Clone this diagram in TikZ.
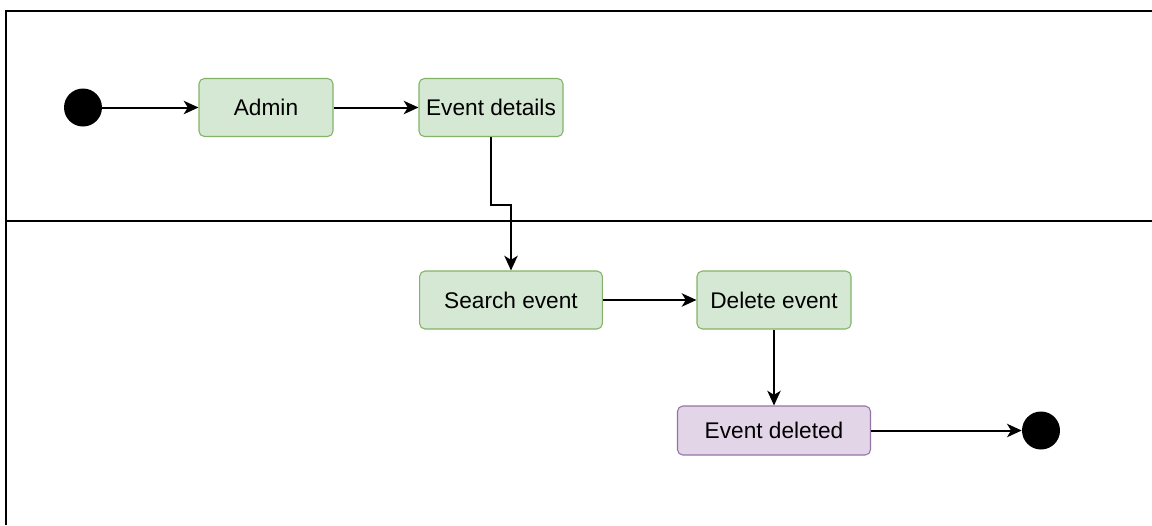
\documentclass[tikz,border=0pt]{standalone}
\usepackage{fontspec}
\setmainfont{Liberation Sans}
\usepackage{tikz}
\usetikzlibrary{arrows.meta}

\definecolor{greenfill}{RGB}{213,232,212}
\definecolor{greenline}{RGB}{130,179,102}
\definecolor{purplefill}{RGB}{225,213,231}
\definecolor{purpleline}{RGB}{150,115,166}

\tikzset{
  actbox/.style={draw=greenline, fill=greenfill, rounded corners=4pt, line width=0.8pt,
    minimum height=43.5pt, inner sep=0pt, font=\fontsize{17}{20}\selectfont},
  endbox/.style={actbox, draw=purpleline, fill=purplefill, minimum height=36.75pt},
  blob/.style={circle, fill=black, minimum size=28.5pt, inner sep=0pt},
  flow/.style={line width=1.5pt, -{Stealth[length=11pt,width=10pt,inset=3pt]}},
}

\begin{document}
\begin{tikzpicture}[x=0.75pt,y=0.75pt,yscale=-1,xscale=1]
\useasboundingbox (0,0) rectangle (1152,525);

%Lanes
\draw [line width=1.8pt] (1152,11) -- (6,11) -- (6,525) ;
\draw [line width=2pt] (6,221) -- (1152,221) ;

%Start and end
\node [blob] (start) at (83,107.5) {};
\node [blob] (finish) at (1041,430.5) {};

%Activities
\node [actbox, minimum width=100.5pt] (admin) at (266,107.5) {Admin};
\node [actbox, minimum width=108pt] (details) at (491,107.5) {Event details};
\node [actbox, minimum width=137pt] (search) at (511,300) {Search event};
\node [actbox, minimum width=115.5pt] (delete) at (774,300) {Delete event};
\node [endbox, minimum width=144.75pt] (deleted) at (774,430.5) {Event deleted};

%Bend point
\coordinate (bend) at (511,205);

%Connectors
\draw [flow] (start) -- (admin) ;
\draw [flow] (admin) -- (details) ;
\draw [flow] (details.south) |- (bend) -- (search.north) ;
\draw [flow] (search) -- (delete) ;
\draw [flow] (delete) -- (deleted) ;
\draw [flow] (deleted) -- (finish) ;

\end{tikzpicture}
\end{document}
